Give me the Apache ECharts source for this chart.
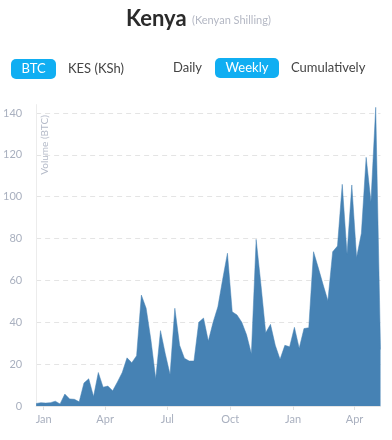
<!DOCTYPE html>
<html>
<head>
<meta charset="utf-8">
<script src="https://cdn.jsdelivr.net/npm/echarts@6/dist/echarts.min.js"></script>
<style>
html,body{margin:0;padding:0;background:#fff;}
#c{width:392px;height:440px;}
</style>
</head>
<body>
<div id="c"></div>
<script>
// Weekly dates (categories)
const weekDates = [
 '2016-12-21','2016-12-28','2017-01-04','2017-01-11','2017-01-18','2017-01-25',
 '2017-02-01','2017-02-08','2017-02-15','2017-02-22','2017-03-01','2017-03-08',
 '2017-03-15','2017-03-22','2017-03-29','2017-04-05','2017-04-12','2017-04-19',
 '2017-04-26','2017-05-03','2017-05-10','2017-05-17','2017-05-24','2017-05-31',
 '2017-06-07','2017-06-14','2017-06-21','2017-06-28','2017-07-05','2017-07-12',
 '2017-07-19','2017-07-26','2017-08-02','2017-08-09','2017-08-16','2017-08-23',
 '2017-08-30','2017-09-06','2017-09-13','2017-09-20','2017-09-27','2017-10-04',
 '2017-10-11','2017-10-18','2017-10-25','2017-11-01','2017-11-08','2017-11-15',
 '2017-11-22','2017-11-29','2017-12-06','2017-12-13','2017-12-20','2017-12-27',
 '2018-01-03','2018-01-10','2018-01-17','2018-01-24','2018-01-31','2018-02-07',
 '2018-02-14','2018-02-21','2018-02-28','2018-03-07','2018-03-14','2018-03-21',
 '2018-03-28','2018-04-04','2018-04-11','2018-04-18','2018-04-25','2018-05-02',
 '2018-05-09'
];
// Weekly volume (BTC)
const volumeBTC = [
 1.2, 1.6, 1.4, 1.6, 2.3, 1.0, 5.7, 3.4, 3.2, 2.0,
 11, 13, 4.5, 16, 9, 9.5, 7.3, 11.5, 16, 23,
 20.7, 24, 53, 46.7, 31.5, 13, 36, 25, 15, 46.7,
 29, 22.8, 21.5, 21.5, 40, 42, 31, 40, 47.4, 60.5,
 73, 45, 43.5, 40, 34, 25, 79.6, 58, 35, 39,
 29, 22.3, 29, 28.3, 37.6, 27.6, 37, 37.4, 73.7, 66,
 58, 50.3, 73.7, 76.4, 105.9, 72.6, 105.6, 71, 82.5, 118.8,
 97.6, 142.7, 27
];
// X tick labels
const tickDates = ['2017-01-01','2017-04-01','2017-07-01','2017-10-01','2018-01-01','2018-04-01'];
const tickLabels = ['Jan','Apr','Jul','Oct','Jan','Apr'];
// Y tick labels
const yTicks = [0, 20, 40, 60, 80, 100, 120, 140];

const toTime = d => +new Date(d + 'T00:00:00Z');
const tickTimes = tickDates.map(toTime);
const seriesData = weekDates.map((d, i) => [toTime(d), volumeBTC[i]]);

const FONT = 'Lato, "Open Sans", sans-serif';
const chart = echarts.init(document.getElementById('c'));
chart.setOption({
  animation: false,
  backgroundColor: '#fff',
  grid: {left: 35, right: 11.5, top: 104.6, bottom: 34, containLabel: false},
  xAxis: {
    type: 'value',
    min: seriesData[0][0],
    max: seriesData[seriesData.length - 1][0],
    axisLine: {show: true, onZero: false, lineStyle: {color: '#e6e6e6'}},
    axisTick: {show: true, customValues: tickTimes, length: 4, lineStyle: {color: '#e0e0e0'}},
    axisLabel: {
      customValues: tickTimes,
      color: '#a9b0bf', fontSize: 11, fontFamily: FONT, margin: 8,
      formatter: function (v) {
        const k = tickTimes.indexOf(v);
        return k >= 0 ? tickLabels[k] : '';
      }
    },
    splitLine: {show: false}
  },
  yAxis: {
    type: 'value',
    min: 0,
    max: 144,
    interval: 20,
    axisLine: {show: true, lineStyle: {color: '#ececec'}},
    axisTick: {show: false},
    axisLabel: {
      customValues: yTicks,
      color: '#a9b0bf', fontSize: 11, fontFamily: FONT, margin: 14
    },
    splitLine: {show: true, showMinLine: false, showMaxLine: false,
      lineStyle: {color: '#e4e4e4', type: [5, 4], width: 1}}
  },
  series: [{
    type: 'line',
    data: seriesData,
    symbol: 'none',
    smooth: false,
    lineStyle: {width: 0.5, color: '#4682b4'},
    areaStyle: {color: '#4682b4', opacity: 1},
    itemStyle: {color: '#4682b4'}
  }],
  graphic: [
    {type: 'text', left: 126, top: 8, style: {text: 'Kenya', fontSize: 22, fontWeight: 'bold', fill: '#2b2b2b', fontFamily: FONT}},
    {type: 'text', left: 192, top: 15, style: {text: '(Kenyan Shilling)', fontSize: 11, fill: '#b4b8c4', fontFamily: FONT}},
    {type: 'rect', shape: {x: 11, y: 59, width: 45, height: 20, r: 5}, style: {fill: '#10aef2'}},
    {type: 'text', x: 33.5, y: 69, style: {text: 'BTC', fontSize: 13, fill: '#ffffff', fontFamily: FONT, align: 'center', verticalAlign: 'middle'}},
    {type: 'text', x: 68, y: 69, style: {text: 'KES (KSh)', fontSize: 13, fill: '#444', fontFamily: FONT, verticalAlign: 'middle'}},
    {type: 'text', x: 173, y: 68, style: {text: 'Daily', fontSize: 13, fill: '#444', fontFamily: FONT, verticalAlign: 'middle'}},
    {type: 'rect', shape: {x: 215, y: 58, width: 64, height: 20, r: 5}, style: {fill: '#10aef2'}},
    {type: 'text', x: 247, y: 68, style: {text: 'Weekly', fontSize: 13, fill: '#ffffff', fontFamily: FONT, align: 'center', verticalAlign: 'middle'}},
    {type: 'text', x: 291, y: 68, style: {text: 'Cumulatively', fontSize: 13, fill: '#444', fontFamily: FONT, verticalAlign: 'middle'}},
    {type: 'text', x: 45, y: 145, rotation: Math.PI / 2, style: {text: 'Volume (BTC)', fontSize: 10, fill: '#b4bac8', fontFamily: FONT, align: 'center', verticalAlign: 'middle'}}
  ]
});
</script>
</body>
</html>
